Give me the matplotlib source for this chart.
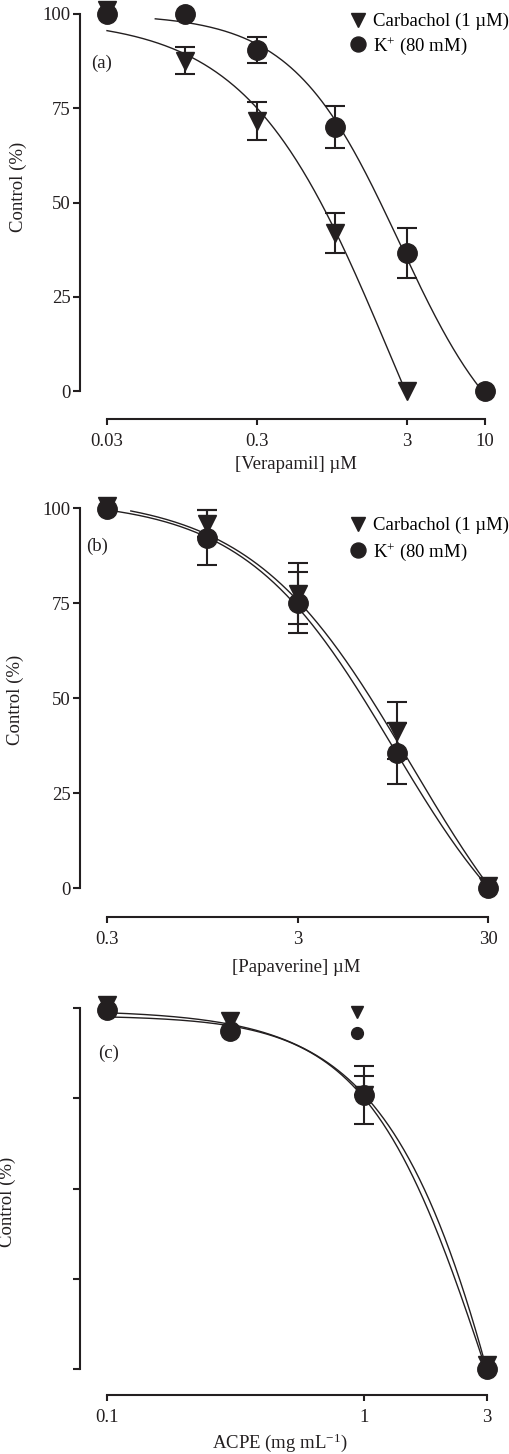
import numpy as np
import matplotlib.pyplot as plt
from matplotlib.lines import Line2D
from matplotlib.ticker import NullLocator

plt.rcParams['font.family'] = ['Liberation Serif', 'DejaVu Serif']
plt.rcParams['mathtext.fontset'] = 'custom'
plt.rcParams['mathtext.rm'] = 'Liberation Serif'
plt.rcParams['mathtext.it'] = 'Liberation Serif:italic'
plt.rcParams['font.size'] = 13.5

INK = '#231f20'

# (a) verapamil
vera_x_carb = [0.03, 0.1, 0.3, 1, 3]
vera_carb = [101, 87.6, 71.6, 41.9, 0]
vera_carb_err = [0, 3.6, 5.0, 5.3, 0]
vera_x_k = [0.03, 0.1, 0.3, 1, 3, 10]
vera_k = [100, 100, 90.4, 70, 36.6, 0]
vera_k_err = [0, 0, 3.4, 5.5, 6.6, 0]
# fitted curves: top, bottom, log IC50, hill slope
vera_fit_carb = (98.9, -81.2, 0.375, 0.91)
vera_fit_k = (100.0, -21.5, 0.430, 1.21)
vera_range_carb = (0.03, 3)
vera_range_k = (0.063, 10)

# (b) papaverine
papa_x = [0.3, 1, 3, 10, 30]
papa_carb = [100.5, 96, 77.5, 41.5, 0.5]
papa_carb_err = [0, 3.6, 8.0, 7.5, 0]
papa_k = [99.7, 92.3, 75.2, 35.5, 0]
papa_k_err = [0, 7.2, 8.0, 8.0, 0]
papa_fit_carb = (103.5, -38.7, 1.075, 1.03)
papa_fit_k = (102.3, -28.3, 0.980, 1.11)
papa_range_carb = (0.4, 30)
papa_range_k = (0.3, 30)

# (c) ACPE
acpe_x = [0.1, 0.3, 1, 3]
acpe_carb = [101, 96.5, 76, 1]
acpe_carb_err = [0, 0, 5.2, 0]
acpe_k = [99.6, 93.7, 76, 0]
acpe_k_err = [0, 0, 8.0, 0]
acpe_fit_carb = (99.5, -289.5, 0.780, 1.53)
acpe_fit_k = (98.0, -107.1, 0.495, 1.82)
acpe_range = (0.1, 3)

legend_labels = ['Carbachol (1 µM)', 'K$^{+}$ (80 mM)']

W, H = 510, 1454
fig = plt.figure(figsize=(W / 100, H / 100), dpi=100)


def px_axes(x0, y0, x1, y1):
    return fig.add_axes([x0 / W, 1 - y1 / H, (x1 - x0) / W, (y1 - y0) / H])


def fig_text(x, y, s, **kw):
    fig.text(x / W, 1 - y / H, s, color=INK, ha='center', va='center', **kw)


def hill(x, top, bottom, log_ic50, slope):
    return bottom + (top - bottom) / (1 + 10 ** (slope * (np.log10(x) - log_ic50)))


def draw_series(ax, x, y, err, marker, ms, lower=True):
    x, y, err = np.array(x), np.array(y), np.array(err)
    m = err > 0
    if m.any():
        yerr = [err[m] if lower else np.zeros(m.sum()), err[m]]
        ax.errorbar(x[m], y[m], yerr=yerr, fmt='none', ecolor=INK, elinewidth=1.5,
                    capsize=7, capthick=1.5, clip_on=False, zorder=3)
    ax.plot(x, y, marker, ms=ms, color=INK, ls='none', clip_on=False, zorder=4)


def draw_curve(ax, rng, params):
    xs = np.logspace(np.log10(rng[0]), np.log10(rng[1]), 300)
    ax.plot(xs, hill(xs, *params), color=INK, lw=1.0, clip_on=False, zorder=2)


def style_axes(ax, xlim, xticks, left_off, bottom_off, ylabels=True):
    ax.set_xscale('log')
    ax.set_xlim(*xlim)
    ax.set_ylim(0, 100)
    ax.set_xticks(xticks)
    ax.set_xticklabels([f'{t:g}' for t in xticks])
    ax.xaxis.set_minor_locator(NullLocator())
    ax.set_yticks([0, 25, 50, 75, 100])
    if not ylabels:
        ax.set_yticklabels([])
    for s in ['top', 'right']:
        ax.spines[s].set_visible(False)
    ax.spines['left'].set_position(('outward', left_off * 0.72))
    ax.spines['bottom'].set_position(('outward', bottom_off * 0.72))
    for s in ['left', 'bottom']:
        ax.spines[s].set_linewidth(1.5)
        ax.spines[s].set_color(INK)
    ax.tick_params(axis='y', length=5, width=1.5, pad=1.5, colors=INK)
    ax.tick_params(axis='x', length=4.5, width=1.5, pad=5.5, colors=INK)
    ax.patch.set_visible(False)


def add_legend(ax, x, y, labels, spacing):
    handles = [Line2D([], [], marker='v', ls='none', color=INK, ms=9.5),
               Line2D([], [], marker='o', ls='none', color=INK, ms=10.8)]
    ax.legend(handles, labels, loc='upper left', bbox_to_anchor=(x / W, 1 - y / H),
              bbox_transform=fig.transFigure, frameon=False, borderpad=0, borderaxespad=0,
              handlelength=0.8, handletextpad=0.4, labelspacing=spacing, numpoints=1)


# panel (a)
ax = px_axes(107, 14, 485, 391)
draw_curve(ax, vera_range_carb, vera_fit_carb)
draw_curve(ax, vera_range_k, vera_fit_k)
draw_series(ax, vera_x_carb, vera_carb, vera_carb_err, 'v', 13)
draw_series(ax, vera_x_k, vera_k, vera_k_err, 'o', 14)
style_axes(ax, (0.03, 10), [0.03, 0.3, 3, 10], 27, 28)
add_legend(ax, 350.5, 13, legend_labels, 0.25)
fig_text(102, 63, '(a)')
fig_text(18, 187, 'Control (%)', rotation=90)
fig_text(296, 465, '[Verapamil] µM')

# panel (b)
ax = px_axes(107, 508.3, 488, 888.3)
draw_curve(ax, papa_range_carb, papa_fit_carb)
draw_curve(ax, papa_range_k, papa_fit_k)
draw_series(ax, papa_x, papa_carb, papa_carb_err, 'v', 13)
draw_series(ax, papa_x, papa_k, papa_k_err, 'o', 14)
style_axes(ax, (0.3, 30), [0.3, 3, 30], 27, 28.4)
add_legend(ax, 350.5, 517, legend_labels, 0.35)
fig_text(97, 546, '(b)')
fig_text(15, 700, 'Control (%)', rotation=90)
fig_text(296, 967, '[Papaverine] µM')

# panel (c)
ax = px_axes(107, 1008.3, 486.7, 1369)
draw_curve(ax, acpe_range, acpe_fit_carb)
draw_curve(ax, acpe_range, acpe_fit_k)
draw_series(ax, acpe_x, acpe_carb, acpe_carb_err, 'v', 13, lower=False)
draw_series(ax, acpe_x, acpe_k, acpe_k_err, 'o', 14)
style_axes(ax, (0.1, 3), [0.1, 1, 3], 27, 26, ylabels=False)
leg_handles = [Line2D([], [], marker='v', ls='none', color=INK, ms=8.5),
               Line2D([], [], marker='o', ls='none', color=INK, ms=8.5)]
ax.legend(leg_handles, ['', ''], loc='upper left', bbox_to_anchor=(349.2 / W, 1 - 1005 / H),
          bbox_transform=fig.transFigure, frameon=False, borderpad=0, borderaxespad=0,
          handlelength=0.8, handletextpad=0, labelspacing=0.22, numpoints=1)
fig_text(109, 1053, '(c)')
fig_text(7, 1202, 'Control (%)', rotation=90)
fig_text(280, 1443, 'ACPE (mg mL$^{-1}$)')

fig.savefig('out.png', dpi=100)
